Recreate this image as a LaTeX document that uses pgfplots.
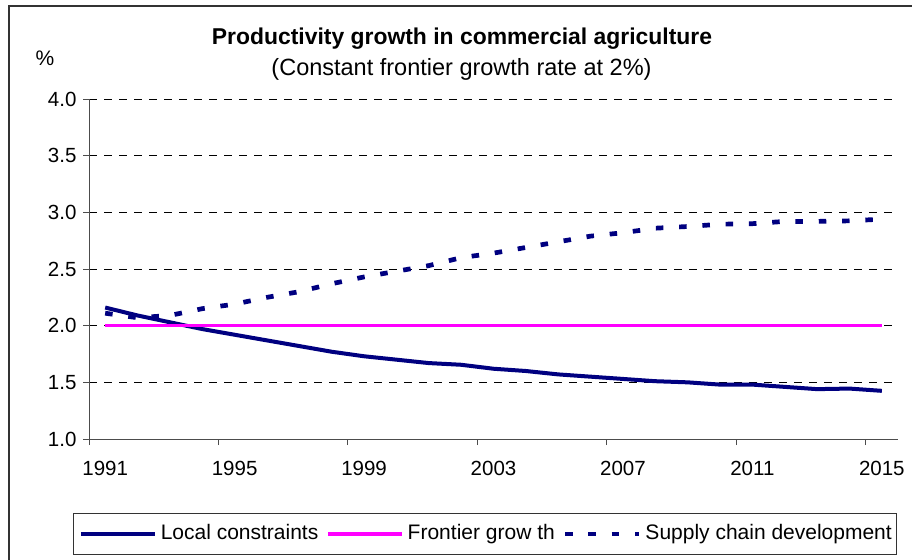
\documentclass[border=0pt]{standalone}
\usepackage{fontspec}
\setmainfont{Liberation Sans}
\usepackage{pgfplots}
\pgfplotsset{compat=1.18}
\usepackage{pgfplotstable}

\definecolor{navyline}{HTML}{000080}
\definecolor{magline}{HTML}{FF00FF}

\pgfplotstableread{
year local supply
1991 2.16 2.11
1992 2.09 2.07
1993 2.03 2.09
1994 1.97 2.15
1995 1.92 2.19
1996 1.87 2.25
1997 1.82 2.30
1998 1.77 2.37
1999 1.73 2.43
2000 1.70 2.48
2001 1.67 2.53
2002 1.655 2.60
2003 1.62 2.64
2004 1.60 2.69
2005 1.57 2.74
2006 1.55 2.79
2007 1.53 2.82
2008 1.51 2.86
2009 1.50 2.875
2010 1.48 2.895
2011 1.48 2.90
2012 1.46 2.92
2013 1.44 2.92
2014 1.445 2.925
2015 1.425 2.94
}\datatable

\begin{document}
\begin{tikzpicture}
\useasboundingbox (0pt,0pt) rectangle (912pt,-559pt);
\draw[line width=1.5pt, black!80] (9pt,-600pt) -- (9pt,-6pt) -- (960pt,-6pt);
\begin{axis}[
  at={(89pt,-439pt)}, anchor=south west,
  scale only axis, width=809pt, height=340pt,
  xmin=1990.5, xmax=2015.5, ymin=1, ymax=4,
  axis lines=left,
  axis line style={-, draw=black!70, line width=1pt},
  tick align=outside,
  tick style={draw=black!70, line width=1pt},
  major tick length=6pt,
  xtick={1990.5,1994.5,...,2014.5},
  xticklabels={},
  extra x ticks={1991,1995,1999,2003,2007,2011,2015},
  extra x tick labels={1991,1995,1999,2003,2007,2011,2015},
  extra x tick style={major tick length=0pt, grid=none},
  ytick={1,1.5,...,4},
  yticklabel style={/pgf/number format/fixed, /pgf/number format/fixed zerofill, /pgf/number format/precision=1},
  /pgf/number format/assume math mode=true,
  ticklabel style={font=\fontsize{20.5}{24}\selectfont},
  xticklabel style={yshift=-19pt},
  yticklabel style={xshift=-3pt},
  ymajorgrids,
  grid style={draw=black, line width=0.9pt, dash pattern=on 8pt off 7pt},
  legend columns=3,
  legend image code/.code={\draw[#1] (0pt,0pt) -- (74pt,0pt);},
  legend style={at={(-0.0194,-0.2185)}, anchor=north west,
    draw=black!80, line width=0.9pt,
    font=\fontsize{21}{25}\selectfont,
    inner xsep=5pt, inner ysep=10.5pt,
    nodes={inner sep=0pt, text height=15pt, text depth=4.5pt},
    /tikz/every odd column/.append style={column sep=4pt},
    /tikz/every even column/.append style={column sep=8pt}},
  legend cell align=left,
]
\addplot[navyline, line width=4pt, line join=round] table[x=year,y=local]{\datatable};
\addplot[magline, line width=3.4pt] coordinates {(1991,2) (2015,2)};
\addplot[navyline, line width=4.7pt, dash pattern=on 7.5pt off 15.8pt] table[x=year,y=supply]{\datatable};
\legend{Local constraints, Frontier grow th, Supply chain development}
\end{axis}
\node[anchor=base, font=\fontsize{22.9}{26}\selectfont\bfseries] at (462pt,-45pt) {Productivity growth in commercial agriculture};
\node[anchor=base, font=\fontsize{23.5}{27}\selectfont] at (461.5pt,-75.5pt) {(Constant frontier growth rate at 2\%)};
\node[anchor=base west, font=\fontsize{21}{25}\selectfont] at (32pt,-66pt) {\%};
\end{tikzpicture}
\end{document}
